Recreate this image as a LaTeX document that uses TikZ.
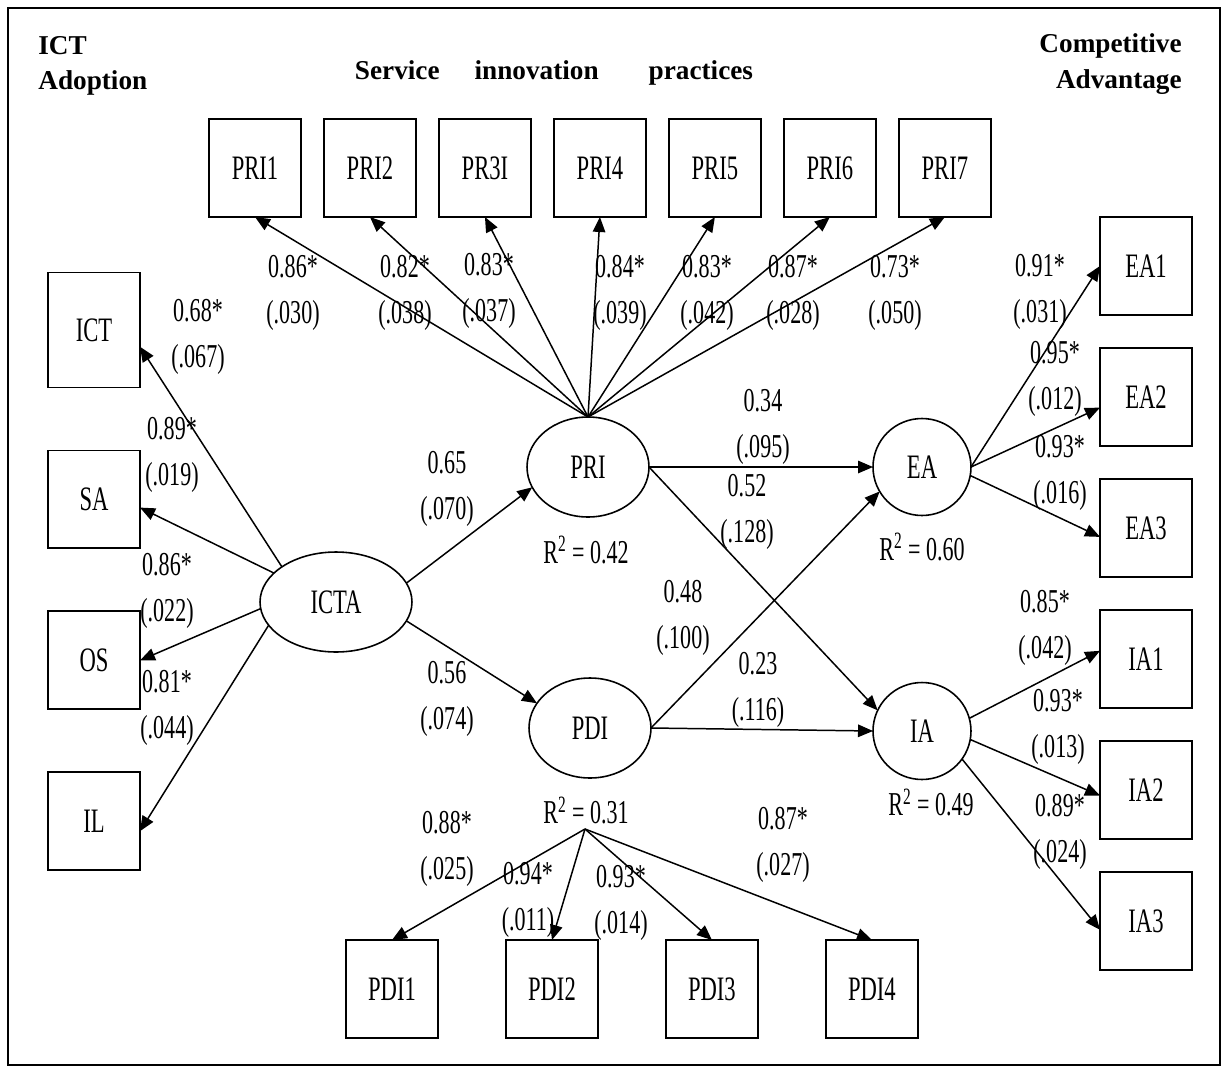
\documentclass[tikz,border=0pt]{standalone}
\usepackage{fontspec}
\setmainfont{Liberation Serif}
\newfontfamily\narrowfont[FakeStretch=0.66]{Liberation Serif}
\usepackage{tikz}
\usetikzlibrary{shapes.geometric, arrows.meta, positioning}

\begin{document}
\begin{tikzpicture}[x=0.02cm, y=-0.02cm,
        box/.style={draw, line width=1.1pt, minimum width=1.84cm, minimum height=1.96cm, inner sep=0pt, outer sep=0pt, font=\narrowfont\fontsize{19.5}{22}\selectfont},
        latent/.style={draw, ellipse, line width=0.9pt, inner sep=0pt, outer sep=0pt, minimum width=2.44cm, minimum height=2cm, font=\narrowfont\fontsize{19.5}{22}\selectfont},
        arrow/.style={-{Triangle[length=0.3cm, width=0.25cm]}, line width=0.85pt},
        est/.style={align=center, inner sep=0pt, font=\narrowfont\fontsize{19}{26.5}\selectfont},
        rsq/.style={inner sep=0pt, font=\narrowfont\fontsize{19}{22}\selectfont},
        heading/.style={inner sep=0pt, font=\bfseries\fontsize{15.5}{20}\selectfont}
    ]
        \useasboundingbox (0,0) rectangle (1225,1069);
        \draw [line width=1.4pt] (8,8) rectangle (1220,1065);

        % headings
        \node (t-ict) [heading, anchor=west, align=left] at (38,66) {ICT\\Adoption};
        \node (t-sip) [heading] at (554,73) {Service\hspace{0.7cm}innovation\hspace{1cm}practices};
        \node (t-ca) [heading, anchor=east, align=right] at (1182,64) {Competitive\\Advantage};

        % latent variables
        \node (icta) [latent, minimum width=3.04cm] at (336,602) {ICTA};
        \node (pri) [latent] at (588,467) {PRI};
        \node (pdi) [latent] at (590,728) {PDI};
        \node (ea) [latent, minimum width=1.96cm, minimum height=1.94cm] at (922,467) {EA};
        \node (ia) [latent, minimum width=1.96cm, minimum height=1.94cm] at (922,731) {IA};

        % indicators
        \node (ict) [box, minimum height=2.3cm] at (94,330) {ICT};
        \node (sa) [box, below=1.26cm of ict] {SA};
        \node (os) [box, below=1.26cm of sa] {OS};
        \node (il) [box, below=1.26cm of os] {IL};

        \node (pri1) [box] at (255,168) {PRI1};
        \node (pri2) [box, right=0.46cm of pri1] {PRI2};
        \node (pri3) [box, right=0.46cm of pri2] {PR3I};
        \node (pri4) [box, right=0.46cm of pri3] {PRI4};
        \node (pri5) [box, right=0.46cm of pri4] {PRI5};
        \node (pri6) [box, right=0.46cm of pri5] {PRI6};
        \node (pri7) [box, right=0.46cm of pri6] {PRI7};

        \node (pdi1) [box] at (392,989) {PDI1};
        \node (pdi2) [box, right=1.36cm of pdi1] {PDI2};
        \node (pdi3) [box, right=1.36cm of pdi2] {PDI3};
        \node (pdi4) [box, right=1.36cm of pdi3] {PDI4};

        \node (ea1) [box] at (1146,266) {EA1};
        \node (ea2) [box, below=0.66cm of ea1] {EA2};
        \node (ea3) [box, below=0.66cm of ea2] {EA3};
        \node (ia1) [box, below=0.66cm of ea3] {IA1};
        \node (ia2) [box, below=0.66cm of ia1] {IA2};
        \node (ia3) [box, below=0.66cm of ia2] {IA3};

        % R squared
        \node (r2-pri) [rsq] at (586,550) {R\textsuperscript{2} = 0.42};
        \node (r2-ea) [rsq] at (922,547) {R\textsuperscript{2} = 0.60};
        \node (r2-pdi) [rsq] at (586,810) {R\textsuperscript{2} = 0.31};
        \node (r2-ia) [rsq] at (931,802) {R\textsuperscript{2} = 0.49};
        \coordinate (pdifan) at (585,829);

        % paths
        \draw [arrow] (icta.147) -- (ict.-20);
        \draw [arrow] (icta.155) -- (sa.-10);
        \draw [arrow] (icta.185) -- (os.east);
        \draw [arrow] (icta.199) -- (il.-12);
        \draw [arrow] (icta.15) -- (pri.200);
        \draw [arrow] (icta.-15) -- (pdi.155);

        \draw [arrow] (pri.north) -- (pri1.south);
        \draw [arrow] (pri.north) -- (pri2.south);
        \draw [arrow] (pri.north) -- (pri3.south);
        \draw [arrow] (pri.north) -- (pri4.south);
        \draw [arrow] (pri.north) -- (pri5.south);
        \draw [arrow] (pri.north) -- (pri6.south);
        \draw [arrow] (pri.north) -- (pri7.south);

        \draw [arrow] (pri.east) -- (ea.west);
        \draw [arrow] (pri.east) -- (ia.155);
        \draw [arrow] (pdi.east) -- (ea.210);
        \draw [arrow] (pdi.east) -- (ia.west);

        \draw [arrow] (pdifan) -- (pdi1.north);
        \draw [arrow] (pdifan) -- (pdi2.north);
        \draw [arrow] (pdifan) -- (pdi3.north);
        \draw [arrow] (pdifan) -- (pdi4.north);

        \draw [arrow] (ea.east) -- (ea1.west);
        \draw [arrow] (ea.east) -- (ea2.193);
        \draw [arrow] (ea.-10) -- (ea3.191);
        \draw [arrow] (ia.15) -- (ia1.170);
        \draw [arrow] (ia.-10) -- (ia2.187);
        \draw [arrow] (ia.-35) -- (ia3.191);

        % estimates
        \node (w-ict) [est] at (198,337) {0.68*\\(.067)};
        \node (w-sa) [est] at (172,455) {0.89*\\(.019)};
        \node (w-os) [est] at (167,591) {0.86*\\(.022)};
        \node (w-il) [est] at (167,708) {0.81*\\(.044)};
        \node (w-icta-pri) [est] at (447,489) {0.65\\(.070)};
        \node (w-icta-pdi) [est] at (447,699) {0.56\\(.074)};

        \node (w-pri1) [est] at (293,293) {0.86*\\(.030)};
        \node (w-pri2) [est] at (405,293) {0.82*\\(.038)};
        \node (w-pri3) [est] at (489,291) {0.83*\\(.037)};
        \node (w-pri4) [est] at (620,293) {0.84*\\(.039)};
        \node (w-pri5) [est] at (707,293) {0.83*\\(.042)};
        \node (w-pri6) [est] at (793,293) {0.87*\\(.028)};
        \node (w-pri7) [est] at (895,293) {0.73*\\(.050)};

        \node (w-pri-ea) [est] at (763,427) {0.34\\(.095)};
        \node (w-pri-ia) [est] at (747,512) {0.52\\(.128)};
        \node (w-pdi-ea) [est] at (683,618) {0.48\\(.100)};
        \node (w-pdi-ia) [est] at (758,690) {0.23\\(.116)};

        \node (w-pdi1) [est] at (447,849) {0.88*\\(.025)};
        \node (w-pdi2) [est] at (528,900) {0.94*\\(.011)};
        \node (w-pdi3) [est] at (621,903) {0.93*\\(.014)};
        \node (w-pdi4) [est] at (783,845) {0.87*\\(.027)};

        \node (w-ea1) [est] at (1040,292) {0.91*\\(.031)};
        \node (w-ea2) [est] at (1055,379) {0.95*\\(.012)};
        \node (w-ea3) [est] at (1060,473) {0.93*\\(.016)};
        \node (w-ia1) [est] at (1045,628) {0.85*\\(.042)};
        \node (w-ia2) [est] at (1058,727) {0.93*\\(.013)};
        \node (w-ia3) [est] at (1060,832) {0.89*\\(.024)};
    \end{tikzpicture}
\end{document}
